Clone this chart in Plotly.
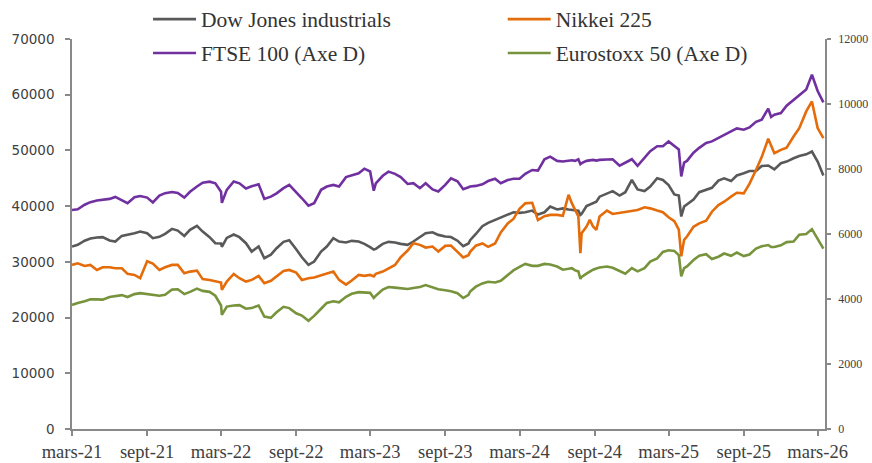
import plotly.graph_objects as go

dates = [
    "2021-03-01","2021-03-15","2021-04-01","2021-04-15","2021-05-01","2021-05-15","2021-06-01","2021-06-15",
    "2021-07-01","2021-07-15","2021-08-01","2021-08-15","2021-09-01","2021-09-15","2021-10-01","2021-10-15",
    "2021-11-01","2021-11-15","2021-12-01","2021-12-15",
    "2022-01-01","2022-01-15","2022-02-01","2022-02-15","2022-03-01","2022-03-03","2022-03-15","2022-04-01",
    "2022-04-15","2022-05-01","2022-05-15","2022-06-01","2022-06-15","2022-07-01","2022-07-15","2022-08-01",
    "2022-08-15","2022-09-01","2022-09-15","2022-10-01","2022-10-15","2022-11-01","2022-11-15","2022-12-01",
    "2022-12-15",
    "2023-01-01","2023-01-15","2023-02-01","2023-02-15","2023-03-01","2023-03-10","2023-03-15","2023-04-01",
    "2023-04-15","2023-05-01","2023-05-15","2023-06-01","2023-06-15","2023-07-01","2023-07-15","2023-08-01",
    "2023-08-15","2023-09-01","2023-09-15","2023-10-01","2023-10-15","2023-10-28","2023-11-01","2023-11-15",
    "2023-12-01","2023-12-15",
    "2024-01-01","2024-01-15","2024-02-01","2024-02-15","2024-03-01","2024-03-15","2024-04-01","2024-04-15",
    "2024-05-01","2024-05-15","2024-06-01","2024-06-15","2024-06-29","2024-07-07","2024-07-15","2024-07-23",
    "2024-07-28","2024-07-31","2024-08-12","2024-08-20","2024-08-28","2024-09-05","2024-09-13","2024-10-01",
    "2024-10-15","2024-11-01","2024-11-15","2024-12-01","2024-12-15",
    "2025-01-01","2025-01-15","2025-02-01","2025-02-15","2025-03-01","2025-03-15","2025-03-26","2025-04-01",
    "2025-04-08","2025-04-15","2025-05-01","2025-05-15","2025-06-01","2025-06-15","2025-07-01","2025-07-15",
    "2025-08-01","2025-08-15","2025-09-01","2025-09-15","2025-10-01","2025-10-15","2025-10-31","2025-11-07",
    "2025-11-15","2025-12-01","2025-12-15",
    "2026-01-01","2026-01-15","2026-02-01","2026-02-15","2026-03-01","2026-03-15",
]

dow = [
    32750,33050,33800,34190,34370,34430,33830,33650,34660,34840,35140,35440,35140,34250,34490,35020,
    35920,35620,34660,35740,
    36460,35440,34430,33350,33300,32700,34300,34900,34430,33350,31850,32750,30650,31300,32450,33600,
    33900,32270,30830,29450,30050,31850,32750,34250,33650,
    33470,33770,33650,33230,32630,32200,32330,33230,33590,33470,33230,33050,33650,34430,35140,35320,
    34840,34550,34450,33800,32800,33300,33900,35000,36400,37000,
    37500,37900,38500,38900,38800,38900,39200,38500,38900,39930,39400,39600,39400,39330,39330,39200,
    38430,38600,40000,40300,40530,40800,41700,42300,42700,41900,42500,44700,43000,
    42700,43500,45000,44700,43800,42100,41900,38140,39930,40300,41200,42500,43000,43300,44600,45000,
    44500,45500,45900,46300,46300,47200,47300,47000,46600,47700,48000,
    48600,49000,49300,49800,48000,45500,
]

nikkei = [
    29450,29750,29270,29450,28550,29030,29030,28850,28850,27840,27660,27060,30100,29700,28550,29030,
    29450,29450,27960,28250,
    28430,26900,26760,26580,26300,24960,26460,27840,27060,26460,26760,27480,26160,26600,27400,28370,
    28550,28070,26760,27060,27180,27600,27960,28260,26760,
    25920,26640,27660,27480,27660,27400,27840,28260,28790,29450,30830,32030,33350,33050,32570,32750,
    31850,32870,32930,31800,30800,31200,31800,32900,33300,32700,
    33300,35300,36900,37700,39500,40500,40600,37500,38200,38430,38430,38250,42030,40530,39330,38140,
    31550,35140,36340,37540,36340,35740,38140,39200,38600,38800,39000,39100,39300,
    39800,39600,39200,38900,38000,37300,35800,31000,33950,34550,36300,36900,37400,39000,40200,40800,
    41700,42400,42300,44000,46500,48800,52100,51000,49500,50100,50500,
    52500,54000,57000,58800,54000,52200,
]

ftse = [
    6740,6760,6900,6980,7030,7050,7080,7140,7050,6950,7130,7170,7120,6970,7180,7256,
    7290,7260,7120,7300,
    7460,7580,7610,7560,7300,6960,7360,7615,7560,7400,7470,7530,7080,7150,7250,7410,
    7513,7300,7100,6870,6950,7360,7461,7510,7460,
    7750,7810,7870,8010,7923,7330,7560,7790,7920,7850,7750,7540,7564,7410,7560,7370,
    7307,7513,7710,7620,7380,7440,7460,7480,7530,7630,
    7700,7560,7660,7700,7700,7850,7970,7950,8300,8380,8250,8230,8250,8270,8250,8300,
    8150,8180,8250,8270,8280,8260,8280,8290,8300,8100,8200,8300,8100,
    8330,8550,8700,8700,8850,8710,8600,7770,8200,8250,8500,8650,8800,8850,8950,9050,
    9150,9250,9210,9280,9450,9520,9860,9600,9670,9720,9950,
    10130,10250,10450,10900,10400,10050,
]

eurostoxx = [
    3818,3880,3930,3990,3990,3980,4060,4080,4120,4060,4150,4180,4150,4120,4100,4130,
    4290,4300,4150,4220,
    4320,4250,4220,4100,3800,3510,3767,3800,3810,3700,3720,3800,3460,3420,3590,3760,
    3720,3560,3490,3330,3480,3700,3880,3930,3900,
    4070,4160,4210,4200,4190,4030,4100,4290,4370,4350,4340,4310,4340,4370,4430,4350,
    4300,4270,4240,4180,4030,4130,4230,4380,4480,4530,
    4510,4560,4720,4880,4990,5080,5020,5020,5080,5060,5000,4900,4930,4950,4880,4850,
    4620,4680,4780,4845,4900,4940,4970,5000,4960,4860,4780,4950,4850,
    4950,5150,5250,5450,5500,5480,5350,4700,4950,5000,5200,5330,5380,5230,5300,5400,
    5330,5430,5320,5370,5550,5620,5660,5600,5600,5650,5750,
    5770,5980,6000,6150,5850,5550,
]

tick_dates = ["2021-03-01","2021-09-01","2022-03-01","2022-09-01","2023-03-01","2023-09-01",
              "2024-03-01","2024-09-01","2025-03-01","2025-09-01","2026-03-01"]
tick_labels = ["mars-21","sept-21","mars-22","sept-22","mars-23","sept-23",
               "mars-24","sept-24","mars-25","sept-25","mars-26"]

left_ticks = [0, 10000, 20000, 30000, 40000, 50000, 60000, 70000]
right_ticks = [0, 2000, 4000, 6000, 8000, 10000, 12000]

names = ["Dow Jones industrials", "Nikkei 225", "FTSE 100 (Axe D)", "Eurostoxx 50 (Axe D)"]
colors = ["#595959", "#E46C0A", "#7030A0", "#77933C"]

fig = go.Figure()
fig.add_trace(go.Scatter(x=dates, y=dow, name=names[0], mode="lines",
                         line=dict(color=colors[0], width=2.6), yaxis="y", legend="legend"))
fig.add_trace(go.Scatter(x=dates, y=nikkei, name=names[1], mode="lines",
                         line=dict(color=colors[1], width=2.6), yaxis="y", legend="legend2"))
fig.add_trace(go.Scatter(x=dates, y=ftse, name=names[2], mode="lines",
                         line=dict(color=colors[2], width=2.6), yaxis="y2", legend="legend3"))
fig.add_trace(go.Scatter(x=dates, y=eurostoxx, name=names[3], mode="lines",
                         line=dict(color=colors[3], width=2.6), yaxis="y2", legend="legend4"))

axis_col = "#898989"
text_col = "#404040"
xrange = ["2021-03-01", "2026-03-19"]

legend_common = dict(orientation="h", itemwidth=43, xanchor="left", yanchor="middle",
                     bgcolor="rgba(0,0,0,0)",
                     font=dict(family="Liberation Serif", size=21.5, color="#333333"))
col1_x, col2_x = 0.101, 0.572
row1_y, row2_y = 1.051, 0.964

fig.update_layout(
    width=872, height=463,
    margin=dict(l=72, r=47, t=39, b=34, autoexpand=False),
    paper_bgcolor="white", plot_bgcolor="white",
    showlegend=True,
    legend=dict(legend_common, x=col1_x, y=row1_y),
    legend2=dict(legend_common, x=col2_x, y=row1_y),
    legend3=dict(legend_common, x=col1_x, y=row2_y),
    legend4=dict(legend_common, x=col2_x, y=row2_y),
    xaxis=dict(type="date", range=xrange, tickvals=tick_dates, ticktext=tick_labels,
               showgrid=False, zeroline=False, showline=True, linecolor=axis_col, linewidth=1.5,
               ticks="outside", ticklen=5, tickcolor=axis_col, tickwidth=1.5,
               tickfont=dict(family="Liberation Serif", size=18.5, color=text_col)),
    xaxis2=dict(type="date", range=xrange, tickvals=tick_dates, overlaying="x", anchor="y",
                side="bottom", showticklabels=False, showgrid=False, zeroline=False, showline=False,
                ticks="inside", ticklen=5, tickcolor=axis_col, tickwidth=1.5),
    yaxis=dict(range=[0, 70000], tickvals=left_ticks, tickformat="d", showgrid=False, zeroline=False,
               showline=True, linecolor=axis_col, linewidth=1.5,
               ticks="outside", ticklen=5, tickcolor=axis_col, tickwidth=1.5,
               ticklabelstandoff=8,
               tickfont=dict(family="DejaVu Sans", size=13.5, color=text_col)),
    yaxis2=dict(range=[0, 12000], tickvals=right_ticks, tickformat="d", overlaying="y", side="right",
                anchor="x", showgrid=False, zeroline=False, showline=True, linecolor=axis_col,
                linewidth=1.5, ticks="outside", ticklen=4, tickcolor=axis_col, tickwidth=1.5,
                ticklabelstandoff=5,
                tickfont=dict(family="Liberation Serif", size=12, color=text_col)),
)

fig.write_html("out.html")
